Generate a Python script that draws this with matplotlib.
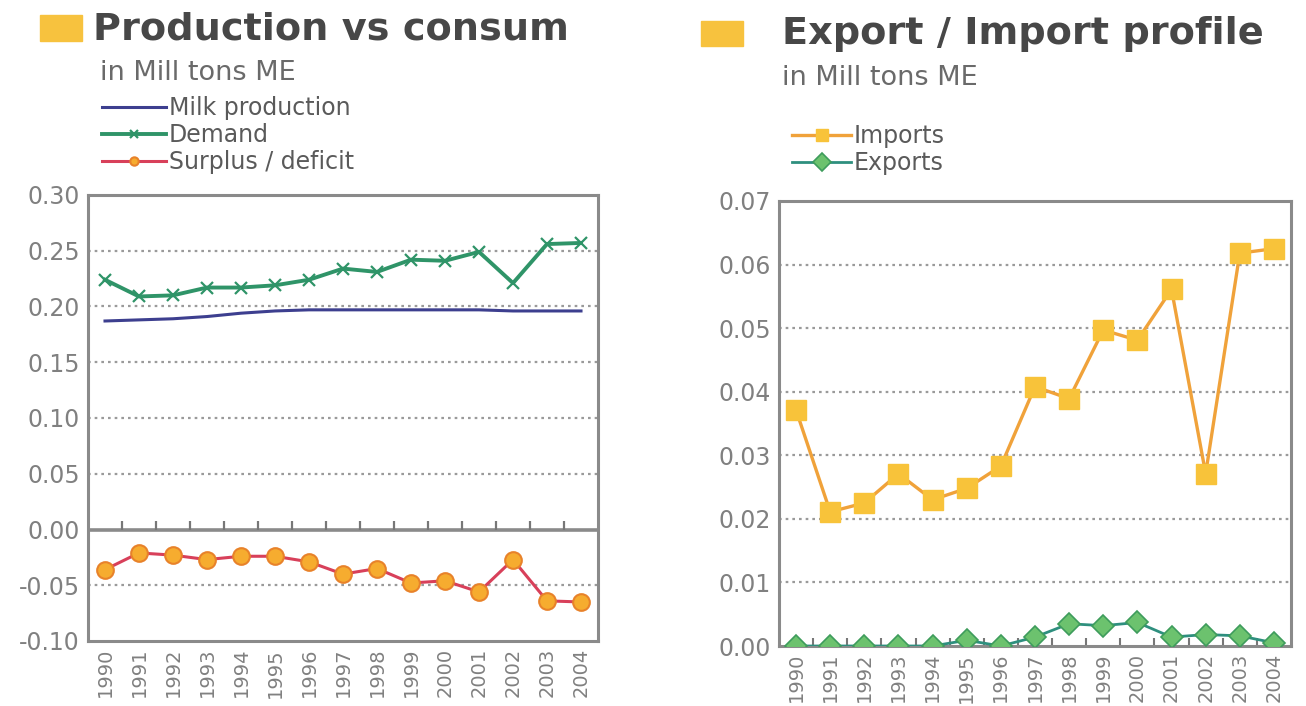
import numpy as np
import matplotlib
matplotlib.use("Agg")
import matplotlib.pyplot as plt
from matplotlib.ticker import FixedLocator, FormatStrFormatter
from matplotlib.patches import Rectangle

years = ["1990", "1991", "1992", "1993", "1994", "1995", "1996", "1997",
         "1998", "1999", "2000", "2001", "2002", "2003", "2004"]
milk_production = [0.187, 0.188, 0.189, 0.191, 0.194, 0.196, 0.197, 0.197,
                   0.197, 0.197, 0.197, 0.197, 0.196, 0.196, 0.196]
demand = [0.224, 0.209, 0.210, 0.217, 0.217, 0.219, 0.224, 0.234,
          0.231, 0.242, 0.241, 0.249, 0.221, 0.256, 0.257]
surplus = [-0.036, -0.021, -0.023, -0.027, -0.024, -0.024, -0.029, -0.040,
           -0.035, -0.048, -0.046, -0.056, -0.027, -0.064, -0.065]
imports = [0.0371, 0.0211, 0.0225, 0.0271, 0.0230, 0.0248, 0.0283, 0.0408,
           0.0389, 0.0497, 0.0481, 0.0561, 0.0271, 0.0618, 0.0625]
exports = [0.0000, 0.0000, 0.0000, 0.0000, 0.0000, 0.0009, 0.0000, 0.0014,
           0.0035, 0.0032, 0.0037, 0.0014, 0.0018, 0.0016, 0.0005]
left_yticks = [-0.10, -0.05, 0.00, 0.05, 0.10, 0.15, 0.20, 0.25, 0.30]
right_yticks = [0.00, 0.01, 0.02, 0.03, 0.04, 0.05, 0.06, 0.07]

plt.rcParams['font.family'] = ['DejaVu Sans']

W, H = 1306, 706
fig = plt.figure(figsize=(W / 100, H / 100), dpi=100)

def fx(px):
    return px / W

def fy(py):
    return 1 - py / H

TICKC = "#808080"
x = np.arange(len(years))

def style_axes(ax, yticks, fmt):
    for s in ax.spines.values():
        s.set_color("#8a8a8a")
        s.set_linewidth(2.2)
    ax.set_xlim(-0.5, len(years) - 0.5)
    ax.set_ylim(yticks[0], yticks[-1])
    ax.yaxis.set_major_locator(FixedLocator(yticks))
    ax.yaxis.set_major_formatter(FormatStrFormatter(fmt))
    ax.set_xticks(x)
    ax.set_xticklabels(years, rotation=90, fontsize=14, color=TICKC)
    ax.tick_params(axis='x', which='major', length=0, pad=5)
    ax.tick_params(axis='y', length=0, pad=6, labelsize=17, labelcolor=TICKC)
    for t in yticks[1:-1]:
        if abs(t) > 1e-9:
            ax.axhline(t, color="#9a9a9a", lw=1.6, ls=(0, (1.2, 1.8)), zorder=1)

# ---------- Left chart ----------
ax1 = fig.add_axes([fx(88), fy(641), fx(598 - 88), fy(195) - fy(641)])
style_axes(ax1, left_yticks, "%.2f")
ax1.axhline(0, color="#8a8a8a", lw=2.6, zorder=2)
ax1.vlines(x[:-1] + 0.5, 0, 0.008, color="#777777", lw=1.6, zorder=2)
ax1.plot(x, milk_production, color="#3d3f8f", lw=2.2, zorder=3,
         label="Milk production")
ax1.plot(x, demand, color="#2f9468", lw=2.8, marker='x', ms=9, mew=1.6,
         mec="#2f9468", zorder=4, label="Demand")
ax1.plot(x, surplus, color="#d8405a", lw=2.2, marker='o', ms=12,
         mfc="#f6ac2f", mec="#e8822a", mew=1.5, zorder=4,
         label="Surplus / deficit")

# ---------- Right chart ----------
ax2 = fig.add_axes([fx(779), fy(646), fx(1291 - 779), fy(201) - fy(646)])
style_axes(ax2, right_yticks, "%.2f")
ax2.set_xticks(x[:-1] + 0.5, minor=True)
ax2.tick_params(axis='x', which='minor', direction='in', length=6,
                width=1.5, color="#777777")
ax2.plot(x, imports, color="#f0a23a", lw=2.4, marker='s', ms=15,
         mfc="#f8c33a", mec="#f8c33a", zorder=4, label="Imports")
ax2.plot(x, exports, color="#2e8f7e", lw=2.0, marker='D', ms=11,
         mfc="#6cc26e", mec="#3e9c5c", mew=1.2, zorder=4, label="Exports")

# ---------- Titles / legends ----------
TITLEC = "#474747"
SUBC = "#6a6a6a"
fig.patches.append(Rectangle((fx(40), fy(41)), fx(42), fy(15) - fy(41),
                             transform=fig.transFigure, color="#f7c23e"))
fig.text(fx(93), fy(39), "Production vs consum", fontsize=27.5, fontweight='bold',
         color=TITLEC, va='baseline', ha='left')
fig.text(fx(100), fy(80), "in Mill tons ME", fontsize=19.5, color=SUBC,
         va='baseline', ha='left')

fig.patches.append(Rectangle((fx(701), fy(46)), fx(42), fy(21) - fy(46),
                             transform=fig.transFigure, color="#f7c23e"))
fig.text(fx(782), fy(44), "Export / Import profile", fontsize=27.5,
         fontweight='bold', color=TITLEC, va='baseline', ha='left')
fig.text(fx(782), fy(85), "in Mill tons ME", fontsize=19.5, color=SUBC,
         va='baseline', ha='left')

h1, l1 = ax1.get_legend_handles_labels()
leg1 = fig.legend(h1, l1, loc='upper left', bbox_to_anchor=(fx(93), fy(87)),
                  frameon=False, fontsize=17, handlelength=2.7,
                  handletextpad=0.1, labelspacing=0.12, borderaxespad=0)
for t in leg1.get_texts():
    t.set_color("#5a5a5a")
for lh in leg1.legend_handles:
    lh.set_markersize(6)

h2, l2 = ax2.get_legend_handles_labels()
leg2 = fig.legend(h2, l2, loc='upper left', bbox_to_anchor=(fx(783), fy(115)),
                  frameon=False, fontsize=17, handlelength=2.5,
                  handletextpad=0.1, labelspacing=0.12, borderaxespad=0)
for t in leg2.get_texts():
    t.set_color("#5a5a5a")
for lh in leg2.legend_handles:
    lh.set_markersize(9)

fig.savefig("out.png", dpi=100, facecolor="white")
